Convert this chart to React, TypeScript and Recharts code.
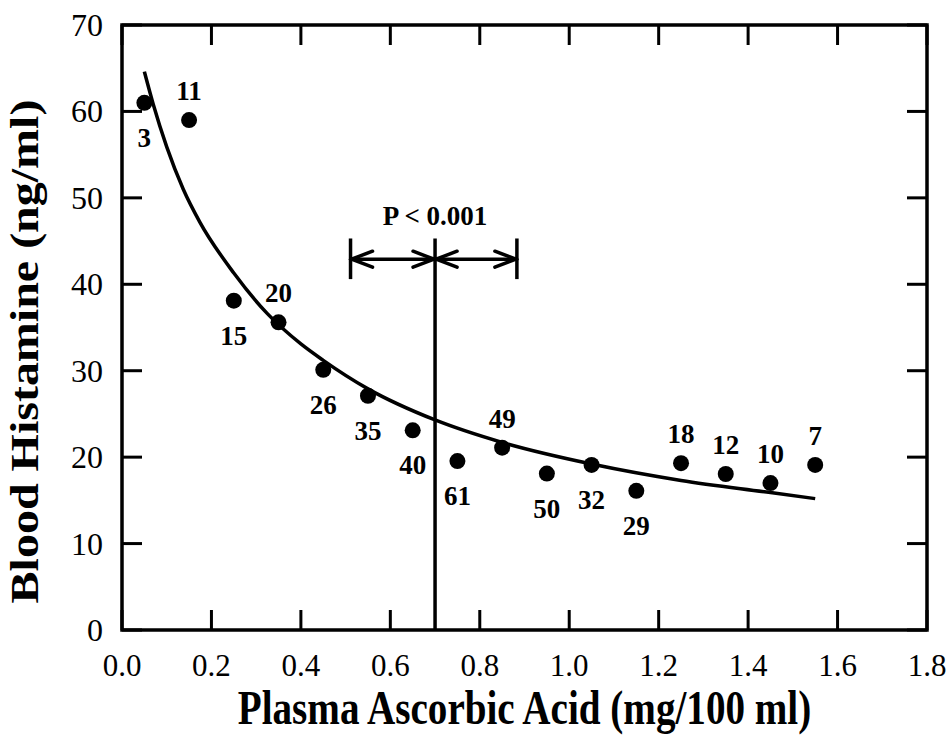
import React from 'react';
import {
  ComposedChart,
  XAxis,
  YAxis,
  Scatter,
  Line,
  ReferenceLine,
  ReferenceArea,
  ReferenceDot,
  Label,
} from 'recharts';

// ---- data ----
const ascorbic = [0.05, 0.15, 0.25, 0.35, 0.45, 0.55, 0.65, 0.75, 0.85, 0.95, 1.05, 1.15, 1.25, 1.35, 1.45, 1.55];
const histamine = [61.0, 59.0, 38.1, 35.6, 30.1, 27.1, 23.1, 19.55, 21.1, 18.1, 19.1, 16.1, 19.3, 18.05, 17.0, 19.1];
const subjects = ['3', '11', '15', '20', '26', '35', '40', '61', '49', '50', '32', '29', '18', '12', '10', '7'];
const labelSide = ['below', 'above', 'below', 'above', 'below', 'below', 'below', 'below', 'above', 'below', 'below', 'below', 'above', 'above', 'above', 'above'];

const fitX = [0.05, 0.07, 0.1, 0.137, 0.174, 0.25, 0.325, 0.4, 0.45, 0.55, 0.7, 0.85, 1.05, 1.25, 1.45, 1.55];
const fitY = [64.6, 60.8, 55.9, 51.0, 47.2, 41.3, 36.6, 33.1, 31.2, 27.9, 24.3, 21.7, 19.2, 17.3, 15.9, 15.2];

const xTicks = [0, 0.2, 0.4, 0.6, 0.8, 1.0, 1.2, 1.4, 1.6, 1.8];
const yTicks = [0, 10, 20, 30, 40, 50, 60, 70];

// annotation (data units)
const thresholdX = 0.7;
const thresholdTop = 45.3;
const bracketX = [0.511, 0.7, 0.883];
const bracketY = [40.6, 45.3];
const arrowY = 42.9;
const pLabelY = 47.9;
const pLabel = 'P < 0.001';

const xTitle = 'Plasma Ascorbic Acid (mg/100 ml)';
const yTitle = 'Blood Histamine (ng/ml)';

// ---- layout ----
const W = 949;
const H = 740;
const M = { top: 25, right: 22, bottom: 0, left: 0 };
const X_AXIS_H = 110;
const Y_AXIS_W = 122;
const PLOT_TOP = M.top;
const PLOT_RIGHT = W - M.right;
const TICK_LEN = 20;
const INK = '#000';
const SERIF = '"Liberation Serif", "Times New Roman", Times, serif';
const LW = 3.5;

const points = ascorbic.map((x, i) => ({ x, y: histamine[i], n: subjects[i], side: labelSide[i] }));
const fit = fitX.map((x, i) => ({ x, y: fitY[i] }));

const XTick = (props: any) => {
  const { x, y, payload } = props;
  return (
    <g>
      <line x1={x} y1={y} x2={x} y2={y - TICK_LEN} stroke={INK} strokeWidth={3} />
      <line x1={x} y1={PLOT_TOP} x2={x} y2={PLOT_TOP + TICK_LEN} stroke={INK} strokeWidth={3} />
      <text x={x} y={y + 46} textAnchor="middle" fontSize={31} fontFamily={SERIF} fill={INK}>
        {Number(payload.value).toFixed(1)}
      </text>
    </g>
  );
};

const YTick = (props: any) => {
  const { x, y, payload } = props;
  return (
    <g>
      <line x1={x} y1={y} x2={x + TICK_LEN} y2={y} stroke={INK} strokeWidth={3} />
      <line x1={PLOT_RIGHT} y1={y} x2={PLOT_RIGHT - TICK_LEN} y2={y} stroke={INK} strokeWidth={3} />
      <text x={x - 19} y={y + 11} textAnchor="end" fontSize={32} fontFamily={SERIF} fill={INK}>
        {String(payload.value)}
      </text>
    </g>
  );
};

const XTitle = (props: any) => {
  const vb = props.viewBox || {};
  const cx = vb.x + vb.width / 2;
  const by = vb.y + 94;
  return (
    <g transform={`translate(${cx},${by}) scale(0.815,1)`}>
      <text x={0} y={0} textAnchor="middle" fontSize={48} fontWeight="bold" fontFamily={SERIF} fill={INK}>
        {xTitle}
      </text>
    </g>
  );
};

const YTitle = (props: any) => {
  const vb = props.viewBox || {};
  const bx = vb.x + 38;
  const cy = vb.y + vb.height / 2 + 24;
  return (
    <g transform={`translate(${bx},${cy}) scale(0.815,1) rotate(-90)`}>
      <text x={0} y={0} textAnchor="middle" fontSize={48} fontWeight="bold" fontFamily={SERIF} fill={INK}>
        {yTitle}
      </text>
    </g>
  );
};

const PointShape = (props: any) => {
  const { cx, cy, payload } = props;
  const above = payload.side === 'above';
  return (
    <g>
      <circle cx={cx} cy={cy} r={8} fill={INK} />
      <text
        x={cx}
        y={above ? cy - 20 : cy + 44}
        textAnchor="middle"
        fontSize={27}
        fontWeight="bold"
        fontFamily={SERIF}
        fill={INK}
      >
        {payload.n}
      </text>
    </g>
  );
};

const DoubleArrow = (props: any) => {
  const { x1, y1, x2, y2 } = props;
  const L = 22;
  const h = 8;
  const lx = Math.min(x1, x2);
  const rx = Math.max(x1, x2);
  return (
    <g stroke={INK} strokeWidth={LW} fill="none" strokeLinecap="round" strokeLinejoin="round">
      <line x1={lx} y1={y1} x2={rx} y2={y2} />
      <polyline points={`${lx + L},${y1 - h} ${lx + 1},${y1} ${lx + L},${y1 + h}`} />
      <polyline points={`${rx - L},${y2 - h} ${rx - 1},${y2} ${rx - L},${y2 + h}`} />
    </g>
  );
};

const PText = (props: any) => {
  const { cx, cy } = props;
  return (
    <text x={cx} y={cy + 9} textAnchor="middle" fontSize={27} fontWeight="bold" fontFamily={SERIF} fill={INK}>
      {pLabel}
    </text>
  );
};

export default function App() {
  return (
    <div style={{ position: 'absolute', left: 0, top: 0, width: W, height: H, background: '#fff' }}>
      <ComposedChart width={W} height={H} margin={M} style={{ fontFamily: SERIF }}>
        <XAxis
          dataKey="x"
          type="number"
          domain={[0, 1.8]}
          ticks={xTicks}
          interval={0}
          allowDataOverflow
          height={X_AXIS_H}
          tickSize={0}
          tickMargin={0}
          axisLine={false}
          tickLine={false}
          tick={XTick}
        >
          <Label content={XTitle} />
        </XAxis>
        <YAxis
          dataKey="y"
          type="number"
          domain={[0, 70]}
          ticks={yTicks}
          interval={0}
          allowDataOverflow
          width={Y_AXIS_W}
          tickSize={0}
          tickMargin={0}
          axisLine={false}
          tickLine={false}
          tick={YTick}
        >
          <Label content={YTitle} />
        </YAxis>
        <ReferenceArea x1={0} x2={1.8} y1={0} y2={70} fill="none" stroke={INK} strokeWidth={LW} ifOverflow="visible" />
        <ReferenceLine
          segment={[{ x: thresholdX, y: 0 }, { x: thresholdX, y: thresholdTop }]}
          stroke={INK}
          strokeWidth={LW}
          ifOverflow="visible"
        />
        <ReferenceLine
          segment={[{ x: bracketX[0], y: bracketY[0] }, { x: bracketX[0], y: bracketY[1] }]}
          stroke={INK}
          strokeWidth={LW}
          ifOverflow="visible"
        />
        <ReferenceLine
          segment={[{ x: bracketX[2], y: bracketY[0] }, { x: bracketX[2], y: bracketY[1] }]}
          stroke={INK}
          strokeWidth={LW}
          ifOverflow="visible"
        />
        <ReferenceLine
          segment={[{ x: bracketX[0], y: arrowY }, { x: bracketX[1], y: arrowY }]}
          shape={DoubleArrow}
          ifOverflow="visible"
        />
        <ReferenceLine
          segment={[{ x: bracketX[1], y: arrowY }, { x: bracketX[2], y: arrowY }]}
          shape={DoubleArrow}
          ifOverflow="visible"
        />
        <ReferenceDot x={thresholdX} y={pLabelY} r={0} shape={PText} ifOverflow="visible" />
        <Line
          data={fit}
          dataKey="y"
          type="monotone"
          stroke={INK}
          strokeWidth={LW}
          dot={false}
          activeDot={false}
          isAnimationActive={false}
        />
        <Scatter data={points} dataKey="y" shape={PointShape} isAnimationActive={false} />
      </ComposedChart>
    </div>
  );
}
